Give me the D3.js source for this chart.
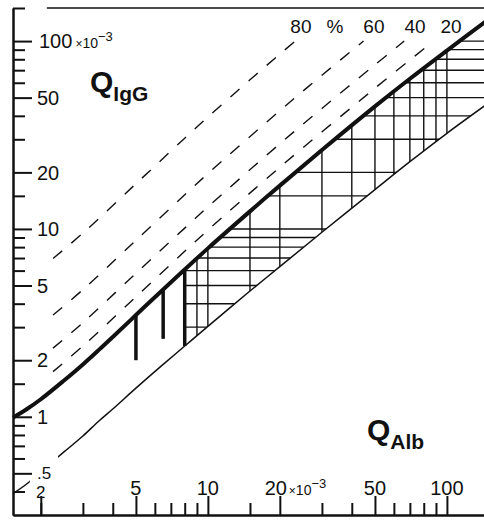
<!DOCTYPE html>
<html>
<head>
<meta charset="utf-8">
<script src="https://cdn.jsdelivr.net/npm/d3@7"></script>
<style>
body{margin:0;background:#fff}
svg{display:block;font-family:"Liberation Sans",Arial,sans-serif}
</style>
</head>
<body>
<svg id="chart" width="484" height="521"></svg>
<script>
// all quotients in units of 10^-3
var qAlb       = [1.53, 1.75, 2, 2.5, 3, 3.5, 4, 5, 6.5, 8, 10, 15, 20, 30, 50, 70, 100, 150]
var upperLimit = [0.99, 1.10, 1.24, 1.56, 1.90, 2.27, 2.66, 3.48, 4.76, 6.08, 7.88, 12.4, 17.0, 26.3, 44.9, 63, 89, 131]
var lowerLimit = [0.39, 0.44, 0.51, 0.65, 0.79, 0.95, 1.10, 1.42, 1.90, 2.38, 3.03, 4.67, 6.3, 9.6, 16.2, 22.8, 32.3, 47]
var lowerGap = [1.8, 2.36]

// intrathecal fraction lines (dashed)
var if80 = [[2.25,6.96],[3,9.5],[5,17.4],[8,30.4],[10,39.4],[15,62.2],[20,85.2],[23.2,100]]
var if60 = [[2.25,3.48],[3,4.75],[5,8.7],[8,15.2],[10,19.7],[20,42.6],[30,65.8],[44.8,100]]
var if40 = [[2.25,2.32],[3,3.17],[5,5.8],[8,10.1],[10,13.1],[20,28.4],[30,43.8],[50,74.8],[66.3,100]]
var if20 = [[2.25,1.74],[3,2.38],[5,4.35],[8,7.6],[10,9.85],[20,21.3],[50,56.1],[87.9,100]]
var pctLabels = [{t:"80",q:24.5},{t:"%",q:34},{t:"60",q:49.5},{t:"40",q:73.5},{t:"20",q:104}]

// age dependent QAlb limits (thick bars)
var ageQ = [5, 6.5, 8]
var ageBottom = [2.0, 2.6, 2.38]

var hatchX = [8,9,10,15,20,30,40,50,60,70,80,90,100]
var hatchY = [3,4,5,6,7,8,9,10,15,20,30,40,50,60,70,80,90,100]

var xTicks = [2,3,4,6,7,8,9,15,30,40,60,70,80,90]
var xMajor = [2,5,10,20,50,100]
var xLabels = ["2","5","10","20","50","100"]
var yTicks = [0.4,0.6,0.7,0.8,0.9,1.5,3,4,6,7,8,9,15,30,40,60,70,80,90,150]
var yMajor = [0.5,1,2,5,10,20,50,100]
var yLabels = [".5","1","2","5","10","20","50","100"]

var svg = d3.select("#chart")
var x = d3.scaleLog().domain([1.53,150]).range([13,489])
var y = d3.scaleLog().domain([0.3,150]).range([515,8])

var line = d3.line().x(d => x(d[0])).y(d => y(d[1])).curve(d3.curveCatmullRom.alpha(0.5))
var upper = qAlb.map((q,i) => [q, upperLimit[i]])
var lower = qAlb.map((q,i) => [q, lowerLimit[i]])

var defs = svg.append("defs")
// hatched band, right of the oldest age limit
var hu = upper.filter(d => d[0] >= 8), hl = lower.filter(d => d[0] >= 8).reverse()
defs.append("clipPath").attr("id","band")
  .append("path").attr("d", line(hu) + "L" + line(hl).slice(1) + "Z")
var gapClip = defs.append("clipPath").attr("id","gap")
gapClip.append("rect").attr("x",0).attr("y",0).attr("width",x(lowerGap[0])).attr("height",521)
gapClip.append("rect").attr("x",x(lowerGap[1])).attr("y",0).attr("width",484).attr("height",521)

var hatch = svg.append("g").attr("clip-path","url(#band)")
  .attr("stroke","#111").attr("stroke-width",1.4)
hatch.selectAll("line.v").data(hatchX).enter().append("line")
  .attr("x1",d => x(d)).attr("x2",d => x(d)).attr("y1",0).attr("y2",521)
hatch.selectAll("line.h").data(hatchY).enter().append("line")
  .attr("y1",d => y(d)).attr("y2",d => y(d)).attr("x1",x(8)).attr("x2",484)

// dashed fraction lines
svg.selectAll("path.frac").data([if80,if60,if40,if20]).enter().append("path")
  .attr("d", line).attr("fill","none").attr("stroke","#111")
  .attr("stroke-width",1.4).attr("stroke-dasharray","12,12")

svg.append("path").attr("d", line(lower)).attr("fill","none")
  .attr("stroke","#111").attr("stroke-width",1.5).attr("clip-path","url(#gap)")
svg.append("path").attr("d", line(upper)).attr("fill","none")
  .attr("stroke","#111").attr("stroke-width",4)

svg.selectAll("line.age").data(ageQ).enter().append("line")
  .attr("x1",d => x(d)).attr("x2",d => x(d))
  .attr("y1",d => y(upper.find(u => u[0] == d)[1]))
  .attr("y2",(d,i) => y(ageBottom[i]))
  .attr("stroke","#111").attr("stroke-width",3.5)

// axes
function styleAxis(g){
  g.selectAll("line").attr("stroke","#111").attr("stroke-width",2)
  g.select(".domain").attr("stroke","#111").attr("stroke-width",2)
}
svg.append("g").attr("transform","translate(" + x(1.53) + ",0)")
  .call(d3.axisRight(y).tickValues(yTicks).tickSize(12).tickSizeOuter(0).tickFormat(""))
  .call(styleAxis)
svg.append("g").attr("transform","translate(" + x(1.53) + ",0)")
  .call(d3.axisRight(y).tickValues(yMajor).tickSize(19).tickSizeOuter(0).tickFormat(""))
  .call(styleAxis)
svg.append("g").attr("transform","translate(0," + y(0.3) + ")")
  .call(d3.axisTop(x).tickValues(xTicks).tickSize(12).tickSizeOuter(0).tickFormat(""))
  .call(styleAxis)
svg.append("g").attr("transform","translate(0," + y(0.3) + ")")
  .call(d3.axisTop(x).tickValues(xMajor).tickSize(19).tickSizeOuter(0).tickFormat(""))
  .call(styleAxis)
svg.append("line").attr("x1",x(2.12)).attr("x2",484).attr("y1",y(150)).attr("y2",y(150))
  .attr("stroke","#111").attr("stroke-width",1.5)

// tick labels
var yl = svg.selectAll("text.yl").data(yMajor).enter().append("text")
  .attr("x",d => d == 100 ? 39 : 37).attr("y",d => y(d)).attr("dy","0.36em")
  .attr("font-size",(d,i) => yLabels[i] == ".5" ? 17 : 20).attr("fill","#111")
  .text((d,i) => yLabels[i])
yl.filter(d => d == 100).each(function(){
  var t = d3.select(this)
  t.append("tspan").attr("dx",3).attr("font-size",12).text("×")
  t.append("tspan").attr("font-size",14).text("10")
  t.append("tspan").attr("dy",-7).attr("font-size",13).text("−3")
})
svg.selectAll("text.xl").data(xMajor).enter().append("text")
  .attr("x",d => d == 20 ? x(d) - 4 : x(d)).attr("y",(d) => d == 2 ? 498 : 495)
  .attr("text-anchor","middle").attr("font-size",d => d == 2 ? 17 : 20).attr("fill","#111")
  .text((d,i) => xLabels[i])
var sfx = svg.append("text").attr("x",x(20) + 9).attr("y",495).attr("fill","#111")
sfx.append("tspan").attr("font-size",12).text("×")
sfx.append("tspan").attr("font-size",14).text("10")
sfx.append("tspan").attr("dy",-7).attr("font-size",13).text("−3")

svg.selectAll("text.pct").data(pctLabels).enter().append("text")
  .attr("x",d => x(d.q)).attr("y",33).attr("text-anchor","middle")
  .attr("font-size",19).attr("fill","#111").text(d => d.t)

// axis titles
var qi = svg.append("text").attr("x",90).attr("y",92).attr("font-weight","bold").attr("fill","#111")
qi.append("tspan").attr("font-size",30).text("Q")
qi.append("tspan").attr("font-size",21).attr("dy",9).text("IgG")
var qa = svg.append("text").attr("x",367).attr("y",440).attr("font-weight","bold").attr("fill","#111")
qa.append("tspan").attr("font-size",30).text("Q")
qa.append("tspan").attr("font-size",21).attr("dy",9).text("Alb")
</script>
</body>
</html>
